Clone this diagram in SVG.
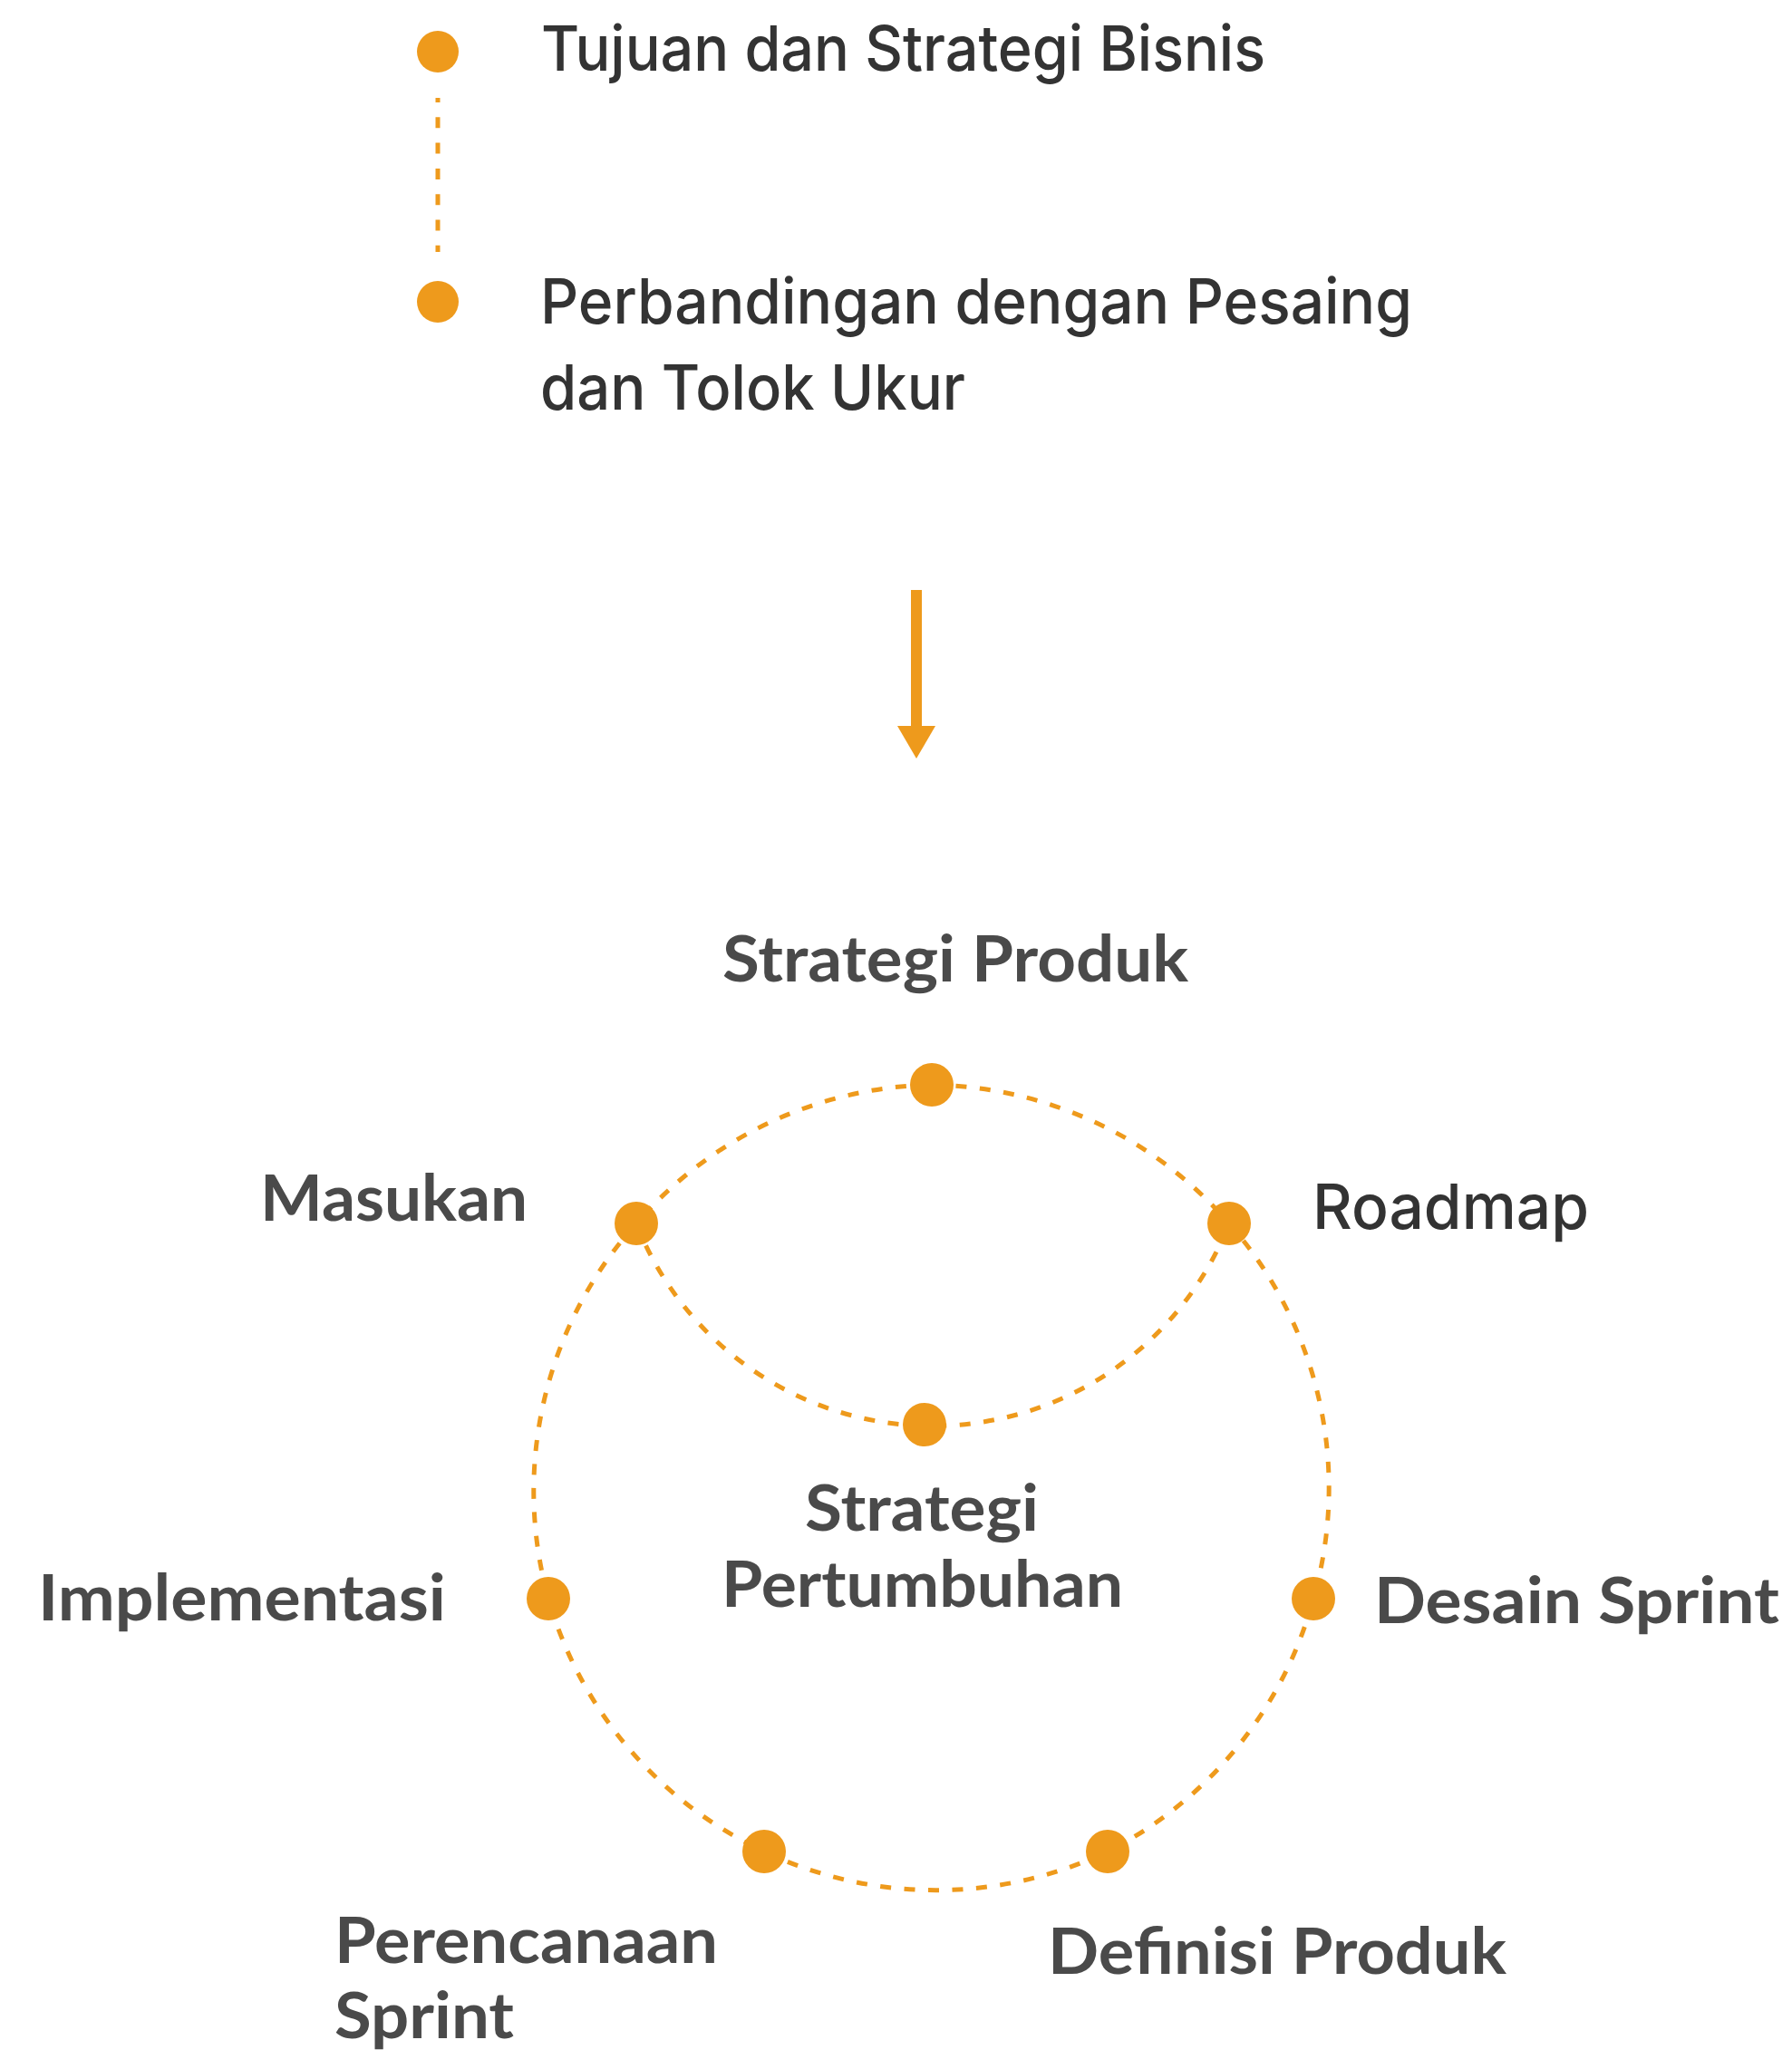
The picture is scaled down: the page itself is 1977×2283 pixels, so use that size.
<svg xmlns="http://www.w3.org/2000/svg" width="1977" height="2283" viewBox="0 0 1977 2283">
<style>
.dot{fill:#EE9A1C}
.dash{fill:none;stroke:#EE9A1C;stroke-width:5;stroke-dasharray:12 14.5}
.geo{font-family:Inter,"Liberation Sans",sans-serif;font-weight:500;font-size:69px;fill:#333333}
.lbl{font-family:Lato,"Open Sans",sans-serif;font-weight:700;font-size:71px;fill:#4A4A4A}
</style>
<rect width="1977" height="2283" fill="#ffffff"/>
<g id="connectors">
  <path class="dash" d="M483,108 L483,278" stroke-dashoffset="7" style="stroke-dasharray:12 16.3"/>
  <g id="arrow">
    <rect x="1005" y="651" width="12" height="152" fill="#EE9A1C"/>
    <polygon points="990,801 1032,801 1011,837" fill="#EE9A1C"/>
  </g>
  <path class="dash" d="M1028,1197 A442,442 0 0 1 1356,1350 A442,442 0 0 1 1449,1764 A442,442 0 0 1 1222,2043 A442,442 0 0 1 843,2043 A442,442 0 0 1 605,1764 A442,442 0 0 1 702,1350 A442,442 0 0 1 1028,1197"/>
  <path class="dash" d="M702,1350 A351,351 0 0 0 1356,1350"/>
</g>
<g id="node-tujuan">
  <circle class="dot" cx="483" cy="57" r="23"/>
  <text class="geo" x="597" y="78" textLength="799" lengthAdjust="spacingAndGlyphs">Tujuan dan Strategi Bisnis</text>
</g>
<g id="node-perbandingan">
  <circle class="dot" cx="483" cy="333" r="23"/>
  <text class="geo" x="596" y="357" textLength="962" lengthAdjust="spacingAndGlyphs">Perbandingan dengan Pesaing</text>
  <text class="geo" x="596" y="452" textLength="469" lengthAdjust="spacingAndGlyphs">dan Tolok Ukur</text>
</g>
<g id="node-strategi-produk">
  <circle class="dot" cx="1028" cy="1197" r="24"/>
  <text class="lbl" x="797" y="1083" textLength="514" lengthAdjust="spacingAndGlyphs">Strategi Produk</text>
</g>
<g id="node-masukan">
  <circle class="dot" cx="702" cy="1350" r="24"/>
  <text class="lbl" x="287" y="1347" textLength="295" lengthAdjust="spacingAndGlyphs">Masukan</text>
</g>
<g id="node-roadmap">
  <circle class="dot" cx="1356" cy="1350" r="24"/>
  <text class="geo" x="1448" y="1356" textLength="305" lengthAdjust="spacingAndGlyphs">Roadmap</text>
</g>
<g id="node-strategi-pertumbuhan">
  <circle class="dot" cx="1020" cy="1572" r="24"/>
  <text class="lbl" x="888" y="1689" textLength="258" lengthAdjust="spacingAndGlyphs">Strategi</text>
  <text class="lbl" x="796" y="1773" textLength="443" lengthAdjust="spacingAndGlyphs">Pertumbuhan</text>
</g>
<g id="node-implementasi">
  <circle class="dot" cx="605" cy="1764" r="24"/>
  <text class="lbl" x="42" y="1788" textLength="450" lengthAdjust="spacingAndGlyphs">Implementasi</text>
</g>
<g id="node-desain-sprint">
  <circle class="dot" cx="1449" cy="1764" r="24"/>
  <text class="lbl" x="1516" y="1791" textLength="447" lengthAdjust="spacingAndGlyphs">Desain Sprint</text>
</g>
<g id="node-perencanaan-sprint">
  <circle class="dot" cx="843" cy="2043" r="24"/>
  <text class="lbl" x="369" y="2166" textLength="423" lengthAdjust="spacingAndGlyphs">Perencanaan</text>
  <text class="lbl" x="369" y="2249" textLength="198" lengthAdjust="spacingAndGlyphs">Sprint</text>
</g>
<g id="node-definisi-produk">
  <circle class="dot" cx="1222" cy="2043" r="24"/>
  <text class="lbl" x="1156" y="2178" textLength="506" lengthAdjust="spacingAndGlyphs">Definisi Produk</text>
</g>
</svg>
